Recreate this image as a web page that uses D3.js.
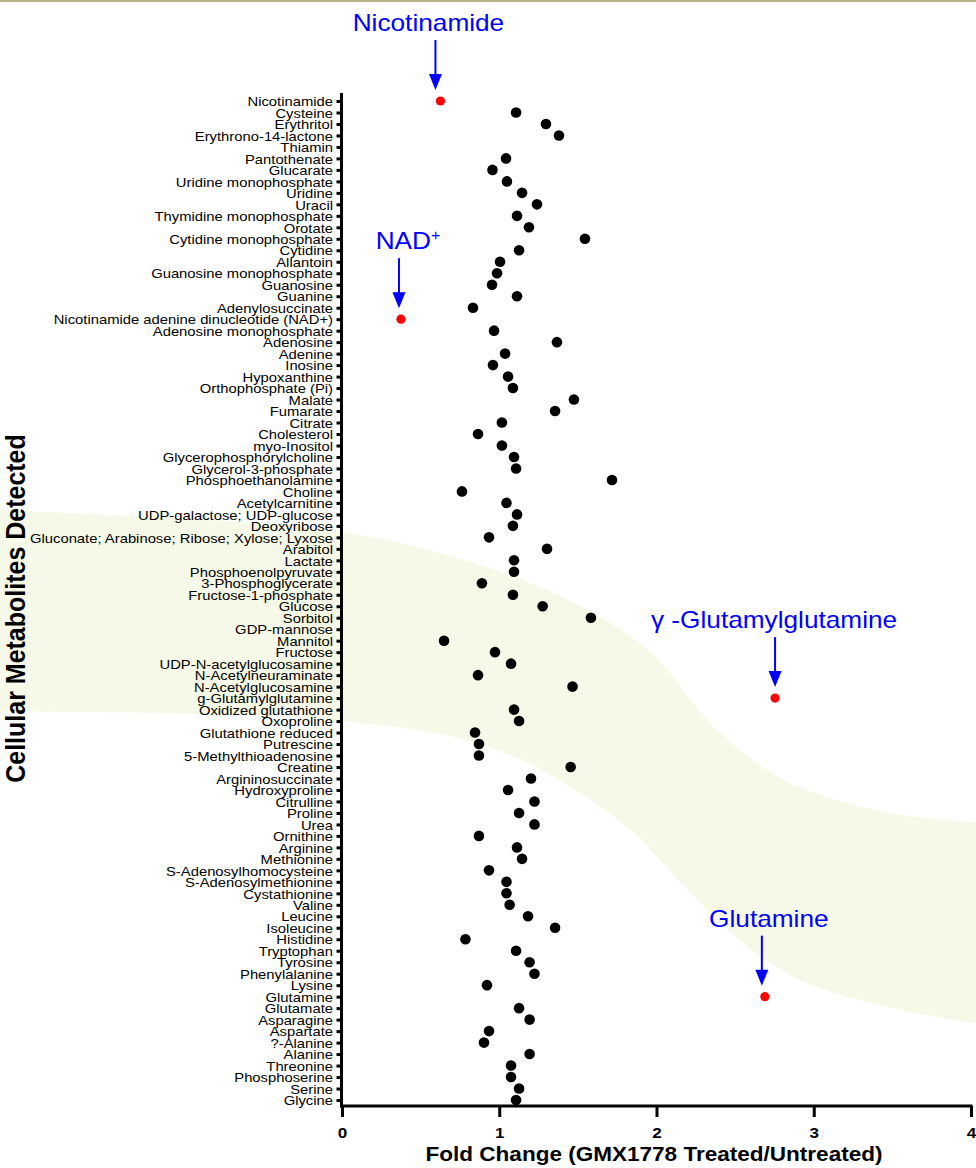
<!DOCTYPE html>
<html>
<head>
<meta charset="utf-8">
<script src="https://cdn.jsdelivr.net/npm/d3@7"></script>
<style>
  body { margin: 0; background: #fff; }
  svg { display: block; }
</style>
</head>
<body>
<svg id="chart" width="976" height="1168"></svg>
<script>
const metabolites = [
  "Nicotinamide", "Cysteine", "Erythritol", "Erythrono-14-lactone", "Thiamin",
  "Pantothenate", "Glucarate", "Uridine monophosphate", "Uridine", "Uracil",
  "Thymidine monophosphate", "Orotate", "Cytidine monophosphate", "Cytidine", "Allantoin",
  "Guanosine monophosphate", "Guanosine", "Guanine", "Adenylosuccinate",
  "Nicotinamide adenine dinucleotide (NAD+)", "Adenosine monophosphate", "Adenosine",
  "Adenine", "Inosine", "Hypoxanthine", "Orthophosphate (Pi)", "Malate", "Fumarate",
  "Citrate", "Cholesterol", "myo-Inositol", "Glycerophosphorylcholine",
  "Glycerol-3-phosphate", "Phosphoethanolamine", "Choline", "Acetylcarnitine",
  "UDP-galactose; UDP-glucose", "Deoxyribose", "Gluconate; Arabinose; Ribose; Xylose; Lyxose",
  "Arabitol", "Lactate", "Phosphoenolpyruvate", "3-Phosphoglycerate", "Fructose-1-phosphate",
  "Glucose", "Sorbitol", "GDP-mannose", "Mannitol", "Fructose", "UDP-N-acetylglucosamine",
  "N-Acetylneuraminate", "N-Acetylglucosamine", "g-Glutamylglutamine", "Oxidized glutathione",
  "Oxoproline", "Glutathione reduced", "Putrescine", "5-Methylthioadenosine", "Creatine",
  "Argininosuccinate", "Hydroxyproline", "Citrulline", "Proline", "Urea", "Ornithine",
  "Arginine", "Methionine", "S-Adenosylhomocysteine", "S-Adenosylmethionine", "Cystathionine",
  "Valine", "Leucine", "Isoleucine", "Histidine", "Tryptophan", "Tyrosine", "Phenylalanine",
  "Lysine", "Glutamine", "Glutamate", "Asparagine", "Aspartate", "?-Alanine", "Alanine",
  "Threonine", "Phosphoserine", "Serine", "Glycine"
];

// fold change per metabolite, null where no point is plotted
const foldChange = [
  0.626, 1.107, 1.297, 1.380, null,
  1.043, 0.957, 1.049, 1.145, 1.240,
  1.113, 1.189, 1.545, 1.126, 1.005,
  0.986, 0.954, 1.113, 0.833,
  0.375, 0.967, 1.367,
  1.037, 0.960, 1.056, 1.087, 1.475, 1.355,
  1.017, 0.865, 1.017, 1.094,
  1.107, 1.717, 0.763, 1.046,
  1.113, 1.087, 0.935,
  1.304, 1.094, 1.094, 0.890, 1.087,
  1.276, 1.583, null, 0.649, 0.973, 1.075,
  0.865, 1.466, 2.754, 1.094,
  1.126, 0.846, 0.871, 0.871, 1.454,
  1.202, 1.056, 1.224, 1.126, 1.224, 0.871,
  1.113, 1.145, 0.935, 1.046, 1.046,
  1.066, 1.183, 1.355, 0.785, 1.107, 1.193, 1.224,
  0.922, 2.689, 1.126, 1.193, 0.935, 0.903, 1.193,
  1.075, 1.075, 1.126, 1.107
];

const highlighted = [
  "Nicotinamide", "Nicotinamide adenine dinucleotide (NAD+)",
  "g-Glutamylglutamine", "Glutamine"
];

const callouts = [
  { metabolite: "Nicotinamide", label: "Nicotinamide", sup: "" },
  { metabolite: "Nicotinamide adenine dinucleotide (NAD+)", label: "NAD", sup: "+" },
  { metabolite: "g-Glutamylglutamine", label: "\u03b3 -Glutamylglutamine", sup: "" },
  { metabolite: "Glutamine", label: "Glutamine", sup: "" }
];

const xTicks = [0, 1, 2, 3, 4];

const FONT = '"Liberation Sans", Arial, Helvetica, sans-serif';
const stretch = 1.14; // the picture's text is slightly wide
const blue = "#0000ff";

const svg = d3.select("#chart").attr("font-family", FONT);

const x = d3.scaleLinear().domain([0, 4]).range([342, 971]);
const y = d3.scalePoint().domain(metabolites).range([101, 1100]);

// thin rule along the top edge
svg.append("rect")
  .attr("width", 976).attr("height", 2)
  .attr("fill", "#b5af86");

// pale watermark band behind the plot
const bandTop = [[-20, 509], [0, 510], [342, 532], [480, 565], [580, 606], [650, 652],
  [715, 728], [780, 778], [870, 809], [976, 823], [1000, 824]];
const bandBottom = [[-20, 710], [0, 711], [342, 721], [498, 750], [622, 823], [684, 886],
  [747, 946], [809, 984], [902, 1010], [976, 1023], [1000, 1024]];
const bandLine = d3.line().curve(d3.curveCatmullRom);
svg.append("path")
  .attr("d", bandLine(bandTop) + "L" + bandLine(bandBottom.slice().reverse()).slice(1) + "Z")
  .attr("fill", "#f6f9e7");

// y axis
const gy = svg.append("g")
  .attr("transform", "translate(341.5,0)")
  .call(d3.axisLeft(y).tickSize(5).tickSizeOuter(0))
  .attr("font-family", FONT);
gy.select(".domain").remove();
gy.selectAll(".tick line").attr("stroke", "#000").attr("stroke-width", 3);
gy.selectAll(".tick text")
  .attr("x", -8.5 / stretch)
  .attr("dy", "0.36em")
  .attr("transform", `scale(${stretch},1)`)
  .attr("fill", "#000")
  .style("font-size", "13px");

svg.append("line")
  .attr("x1", 341.5).attr("x2", 341.5)
  .attr("y1", 93).attr("y2", 1107.5)
  .attr("stroke", "#000").attr("stroke-width", 3);

// x axis
const gx = svg.append("g")
  .attr("transform", "translate(0,1106)")
  .call(d3.axisBottom(x).tickValues(xTicks).tickFormat(d3.format("d")).tickSize(11).tickSizeOuter(0))
  .attr("font-family", FONT);
gx.select(".domain").remove();
gx.selectAll(".tick line").attr("stroke", "#000").attr("stroke-width", 3);
gx.selectAll(".tick text")
  .attr("x", 0)
  .attr("y", 32)
  .attr("dy", 0)
  .attr("transform", `scale(${stretch},1)`)
  .attr("fill", "#000")
  .style("font-size", "15px")
  .style("font-weight", "bold");

svg.append("line")
  .attr("x1", 340).attr("x2", 972.5)
  .attr("y1", 1106).attr("y2", 1106)
  .attr("stroke", "#000").attr("stroke-width", 3);

// axis titles
svg.append("text")
  .attr("transform", "translate(654,1161) scale(1.1,1)")
  .attr("text-anchor", "middle")
  .style("font-size", "20.5px")
  .style("font-weight", "bold")
  .text("Fold Change (GMX1778 Treated/Untreated)");

svg.append("text")
  .attr("transform", `translate(25,608.5) scale(${stretch},1) rotate(-90)`)
  .attr("text-anchor", "middle")
  .style("font-size", "25px")
  .style("font-weight", "bold")
  .text("Cellular Metabolites Detected");

// points
const points = metabolites
  .map((m, i) => ({ name: m, value: foldChange[i] }))
  .filter(d => d.value !== null);

svg.append("g")
  .selectAll("circle")
  .data(points)
  .join("circle")
  .attr("cx", d => x(d.value))
  .attr("cy", d => y(d.name))
  .attr("r", d => highlighted.includes(d.name) ? 4.6 : 5.3)
  .attr("fill", d => highlighted.includes(d.name) ? "#ff0000" : "#000");

// callouts: blue label with an arrow pointing down at the point
const nudge = {
  "Nicotinamide": { text: -12, arrow: -5 },
  "Nicotinamide adenine dinucleotide (NAD+)": { text: 7, arrow: -2 },
  "g-Glutamylglutamine": { text: -1, arrow: 0 },
  "Glutamine": { text: 4, arrow: -3 }
};

callouts.forEach(c => {
  const v = foldChange[metabolites.indexOf(c.metabolite)];
  const px = x(v);
  const py = y(c.metabolite);
  const n = nudge[c.metabolite];
  const ax = px + n.arrow;
  const g = svg.append("g");

  g.append("line")
    .attr("x1", ax).attr("x2", ax)
    .attr("y1", py - 61).attr("y2", py - 25)
    .attr("stroke", blue).attr("stroke-width", 2);
  g.append("path")
    .attr("d", `M${ax - 6.5},${py - 27}L${ax + 6.5},${py - 27}L${ax},${py - 11}Z`)
    .attr("fill", blue);

  const t = g.append("text")
    .attr("transform", `translate(${px + n.text},${py - 70}) scale(${stretch},1)`)
    .attr("text-anchor", "middle")
    .attr("fill", blue)
    .style("font-size", "23px");
  t.append("tspan").text(c.label);
  if (c.sup) {
    t.append("tspan").attr("dy", -9).style("font-size", "14px").text(c.sup);
  }
});
</script>
</body>
</html>
